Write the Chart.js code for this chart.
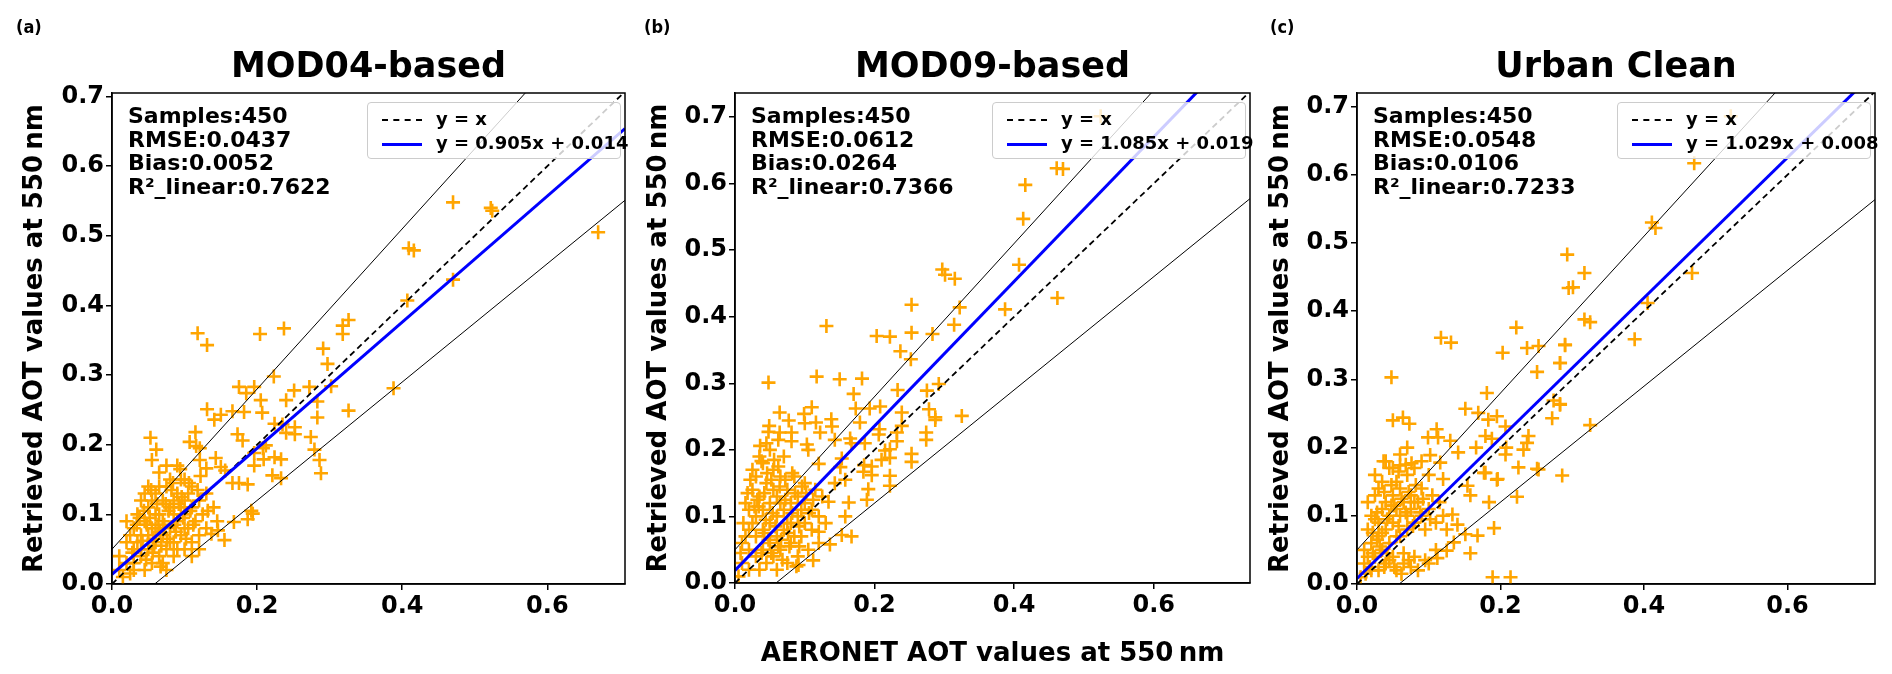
<!DOCTYPE html>
<html>
<head>
<meta charset="utf-8">
<script src="https://cdn.jsdelivr.net/npm/chart.js@4"></script>
<style>
  body { margin: 0; width: 1892px; height: 674px; background: #fff; position: relative; overflow: hidden;
         font-family: "DejaVu Sans", sans-serif; font-weight: bold; color: #000; }
  canvas { position: absolute; top: 0; }
  .ov { position: absolute; white-space: nowrap; z-index: 2; }
  .title { font-size: 35px; text-align: center; }
  .tag { font-size: 18px; font-family: "DejaVu Sans Condensed", "DejaVu Sans", sans-serif; }
  .stats { font-size: 22px; line-height: 23.5px; }
  .legend { font-size: 18px; background: rgba(255,255,255,0.8); border: 1px solid #ccc; border-radius: 4px;
            box-sizing: border-box; height: 57px; padding: 4px 0 0 14px; line-height: 24px; }
  .legend span.s { display: inline-block; width: 40px; margin-right: 14px; vertical-align: middle; }
</style>
</head>
<body>
<canvas id="cA" width="640" height="674" style="left:0px"></canvas>
<canvas id="cB" width="640" height="674" style="left:626px"></canvas>
<canvas id="cC" width="640" height="674" style="left:1252px"></canvas>
<div id="over"></div>
<script>
const titles = ['MOD04-based', 'MOD09-based', 'Urban Clean'];
const tags = ['(a)', '(b)', '(c)'];
const statLines = [
  ['Samples:450', 'RMSE:0.0437', 'Bias:0.0052', 'R\u00b2_linear:0.7622'],
  ['Samples:450', 'RMSE:0.0612', 'Bias:0.0264', 'R\u00b2_linear:0.7366'],
  ['Samples:450', 'RMSE:0.0548', 'Bias:0.0106', 'R\u00b2_linear:0.7233']
];
const fitSlope = [0.905, 1.085, 1.029];
const fitIntercept = [0.014, 0.019, 0.008];
const axisMax = [0.707, 0.738, 0.722];
const yAxisMax = [0.705, 0.736, 0.72];
const xTicks = [0, 0.2, 0.4, 0.6];
const yTicks = [0, 0.1, 0.2, 0.3, 0.4, 0.5, 0.6, 0.7];

const pointsA = [
  [0.470,0.548],[0.522,0.540],[0.524,0.536],[0.409,0.482],[0.416,0.479],[0.470,0.437],[0.407,0.407],[0.388,0.281],
  [0.670,0.505],[0.326,0.379],[0.318,0.371],[0.318,0.359],[0.291,0.338],[0.297,0.316],[0.302,0.284],[0.272,0.283],
  [0.283,0.262],[0.326,0.249],[0.283,0.239],[0.237,0.367],[0.204,0.359],[0.118,0.360],[0.131,0.343],[0.131,0.251],
  [0.223,0.298],[0.175,0.283],[0.196,0.283],[0.185,0.274],[0.205,0.264],[0.207,0.246],[0.166,0.248],[0.182,0.247],
  [0.150,0.243],[0.141,0.236],[0.251,0.278],[0.240,0.264],[0.224,0.230],[0.235,0.229],[0.240,0.217],[0.252,0.225],
  [0.252,0.215],[0.173,0.215],[0.180,0.206],[0.115,0.218],[0.107,0.204],[0.053,0.210],[0.061,0.193],[0.196,0.188],
  [0.212,0.199],[0.208,0.195],[0.224,0.182],[0.233,0.179],[0.274,0.211],[0.286,0.178],[0.121,0.195],[0.143,0.181],
  [0.150,0.168],[0.055,0.178],[0.288,0.159],[0.279,0.193],[0.233,0.152],[0.221,0.156],[0.209,0.179],[0.196,0.170],
  [0.166,0.145],[0.175,0.145],[0.187,0.143],[0.156,0.163],[0.116,0.198],[0.130,0.166],[0.121,0.178],[0.192,0.105],
  [0.155,0.063],[0.187,0.093],[0.194,0.101],[0.168,0.089],[0.146,0.077],[0.137,0.072],
  [0.01,0.02],[0.01,0.04],[0.015,0.01],[0.02,0.03],[0.02,0.06],[0.025,0.015],[0.03,0.05],[0.03,0.08],[0.03,0.02],
  [0.035,0.10],[0.04,0.04],[0.04,0.07],[0.04,0.12],[0.045,0.02],[0.045,0.09],[0.05,0.05],[0.05,0.11],[0.05,0.14],
  [0.055,0.03],[0.055,0.08],[0.06,0.06],[0.06,0.10],[0.06,0.13],[0.065,0.04],[0.065,0.16],[0.07,0.07],[0.07,0.09],
  [0.07,0.12],[0.075,0.02],[0.075,0.05],[0.075,0.14],[0.08,0.08],[0.08,0.11],[0.08,0.15],[0.085,0.04],[0.085,0.06],
  [0.09,0.09],[0.09,0.13],[0.09,0.17],[0.095,0.07],[0.1,0.05],[0.1,0.10],[0.1,0.12],[0.1,0.15],[0.105,0.08],
  [0.11,0.06],[0.11,0.11],[0.11,0.14],[0.115,0.09],[0.12,0.07],[0.12,0.12],[0.125,0.10],[0.13,0.08],[0.13,0.13],
  [0.14,0.11],[0.145,0.09],[0.02,0.09],[0.025,0.07],[0.035,0.06],[0.045,0.13],[0.055,0.12],[0.065,0.10],[0.07,0.03],
  [0.085,0.10],[0.095,0.11],[0.105,0.13],[0.06,0.08],[0.05,0.07],[0.04,0.05],[0.03,0.03],[0.08,0.06],[0.09,0.05],
  [0.1,0.08],[0.11,0.04],[0.12,0.05],[0.065,0.14],[0.075,0.17],[0.085,0.12],[0.095,0.15],[0.058,0.055],[0.072,0.085],
  [0.088,0.075],[0.048,0.085],[0.038,0.095],[0.028,0.045],
  [0.042,0.062],[0.052,0.095],[0.062,0.115],[0.068,0.055],[0.078,0.105],[0.082,0.135],[0.092,0.115],[0.098,0.095],
  [0.108,0.105],[0.118,0.135],[0.056,0.045],[0.066,0.075],[0.076,0.065],[0.086,0.085],[0.096,0.125],[0.106,0.145],
  [0.034,0.085],[0.044,0.105],[0.054,0.135],[0.064,0.085],[0.074,0.115],[0.084,0.145],[0.094,0.165],[0.102,0.065],
  [0.112,0.085],[0.122,0.155],[0.132,0.105],[0.047,0.035],[0.057,0.065],[0.067,0.025]
];
const pointsB = [
  [0.416,0.598],[0.461,0.623],[0.413,0.547],[0.407,0.478],[0.297,0.471],[0.301,0.463],[0.315,0.457],[0.253,0.418],
  [0.322,0.414],[0.387,0.411],[0.314,0.388],[0.462,0.428],[0.470,0.622],[0.524,0.701],[0.131,0.386],[0.203,0.371],
  [0.222,0.370],[0.253,0.376],[0.283,0.374],[0.237,0.348],[0.252,0.336],[0.048,0.301],[0.117,0.310],[0.150,0.306],
  [0.182,0.307],[0.170,0.284],[0.233,0.290],[0.292,0.299],[0.275,0.289],[0.325,0.251],[0.278,0.261],[0.287,0.249],
  [0.193,0.262],[0.208,0.265],[0.173,0.262],[0.239,0.256],[0.274,0.226],[0.253,0.194],[0.215,0.199],[0.222,0.201],
  [0.185,0.177],[0.196,0.175],[0.207,0.231],[0.232,0.226],[0.239,0.236],[0.179,0.241],[0.138,0.246],[0.110,0.264],
  [0.099,0.254],[0.077,0.244],[0.064,0.256],[0.049,0.236],[0.064,0.226],[0.081,0.226],[0.116,0.241],[0.122,0.226],
  [0.036,0.206],[0.103,0.208],[0.165,0.217],[0.153,0.187],[0.151,0.174],[0.120,0.179],[0.222,0.161],
  [0.287,0.245],[0.274,0.215],[0.253,0.182],[0.222,0.146],[0.191,0.141],[0.189,0.125],[0.163,0.121],[0.158,0.100],
  [0.167,0.070],[0.153,0.072],[0.136,0.058],[0.112,0.034],[0.091,0.027],[0.120,0.077],[0.134,0.122],[0.143,0.150],
  [0.158,0.155],[0.184,0.167],[0.196,0.162],[0.210,0.185],[0.222,0.188],[0.232,0.213],[0.206,0.223],[0.186,0.210],
  [0.167,0.210],[0.143,0.215],[0.048,0.227],[0.062,0.215],[0.081,0.213],[0.038,0.183],[0.105,0.200],[0.100,0.240],
  [0.139,0.235],
  [0.005,0.01],[0.01,0.03],[0.01,0.06],[0.012,0.09],[0.015,0.12],[0.02,0.02],[0.02,0.05],[0.02,0.08],[0.02,0.11],
  [0.025,0.14],[0.03,0.04],[0.03,0.07],[0.03,0.10],[0.03,0.16],[0.035,0.02],[0.035,0.13],[0.04,0.05],[0.04,0.08],
  [0.04,0.11],[0.04,0.18],[0.045,0.03],[0.045,0.15],[0.05,0.06],[0.05,0.09],[0.05,0.12],[0.05,0.20],[0.055,0.04],
  [0.055,0.14],[0.055,0.17],[0.06,0.07],[0.06,0.10],[0.06,0.13],[0.06,0.02],[0.065,0.05],[0.065,0.16],[0.07,0.08],
  [0.07,0.11],[0.07,0.19],[0.075,0.03],[0.075,0.14],[0.08,0.06],[0.08,0.09],[0.08,0.12],[0.085,0.16],[0.09,0.04],
  [0.09,0.10],[0.09,0.13],[0.095,0.07],[0.1,0.09],[0.1,0.12],[0.1,0.15],[0.105,0.05],[0.11,0.08],[0.11,0.11],
  [0.115,0.14],[0.12,0.06],[0.12,0.10],[0.125,0.13],[0.13,0.09],[0.025,0.17],[0.035,0.19],[0.045,0.21],[0.015,0.07],
  [0.025,0.09],[0.065,0.12],[0.075,0.09],[0.085,0.07],[0.095,0.11],[0.058,0.085],[0.048,0.065],[0.038,0.045],
  [0.068,0.035],[0.078,0.055],[0.088,0.025],[0.028,0.115],[0.018,0.135],[0.008,0.045],[0.052,0.155],[0.062,0.175],
  [0.042,0.135],
  [0.044,0.095],[0.054,0.105],[0.064,0.145],[0.072,0.125],[0.082,0.105],[0.092,0.085],[0.102,0.135],[0.112,0.125],
  [0.034,0.115],[0.046,0.165],[0.056,0.185],[0.066,0.065],[0.076,0.075],[0.086,0.135],[0.096,0.145],[0.106,0.105],
  [0.022,0.155],[0.032,0.125],[0.042,0.075],[0.052,0.045],[0.062,0.055],[0.072,0.155],[0.082,0.165],[0.092,0.055]
];
const pointsC = [
  [0.293,0.483],[0.295,0.434],[0.222,0.376],[0.117,0.361],[0.131,0.354],[0.203,0.339],[0.237,0.346],[0.253,0.349],
  [0.290,0.350],[0.283,0.324],[0.251,0.311],[0.048,0.303],[0.181,0.280],[0.151,0.257],[0.169,0.251],[0.183,0.241],
  [0.195,0.246],[0.207,0.231],[0.274,0.269],[0.283,0.264],[0.272,0.243],[0.050,0.240],[0.064,0.244],[0.073,0.235],
  [0.111,0.227],[0.099,0.215],[0.113,0.215],[0.130,0.210],[0.141,0.193],[0.166,0.200],[0.188,0.213],[0.208,0.200],
  [0.207,0.190],[0.232,0.197],[0.239,0.217],[0.237,0.207],[0.037,0.180],[0.060,0.174],[0.076,0.177],[0.102,0.189],
  [0.116,0.178],[0.120,0.154],[0.179,0.163],[0.195,0.153],[0.225,0.171],[0.253,0.168],[0.286,0.159],
  [0.189,0.010],[0.214,0.010],[0.251,0.169],[0.223,0.128],[0.196,0.154],[0.191,0.082],[0.184,0.120],[0.158,0.045],
  [0.168,0.071],[0.151,0.073],[0.135,0.061],[0.112,0.038],[0.125,0.049],[0.140,0.087],[0.133,0.102],[0.158,0.130],
  [0.154,0.144],[0.177,0.163],[0.179,0.217],
  [0.470,0.617],[0.521,0.686],[0.411,0.530],[0.416,0.522],[0.317,0.456],[0.301,0.435],[0.467,0.456],[0.405,0.412],
  [0.317,0.388],[0.325,0.384],[0.290,0.351],[0.387,0.359],[0.283,0.324],[0.283,0.263],[0.325,0.233],
  [0.005,0.01],[0.01,0.03],[0.01,0.05],[0.015,0.08],[0.02,0.02],[0.02,0.06],[0.02,0.10],[0.025,0.04],[0.025,0.13],
  [0.03,0.07],[0.03,0.09],[0.03,0.02],[0.035,0.05],[0.035,0.11],[0.035,0.15],[0.04,0.03],[0.04,0.08],[0.04,0.12],
  [0.045,0.06],[0.045,0.10],[0.045,0.17],[0.05,0.04],[0.05,0.09],[0.05,0.13],[0.055,0.02],[0.055,0.11],[0.055,0.15],
  [0.06,0.07],[0.06,0.10],[0.06,0.14],[0.065,0.03],[0.065,0.12],[0.07,0.08],[0.07,0.16],[0.075,0.11],[0.075,0.13],
  [0.08,0.04],[0.08,0.09],[0.085,0.12],[0.085,0.02],[0.09,0.10],[0.09,0.14],[0.095,0.08],[0.1,0.11],[0.1,0.03],
  [0.105,0.13],[0.11,0.09],[0.11,0.05],[0.115,0.12],[0.12,0.10],[0.125,0.08],[0.015,0.12],[0.025,0.16],[0.03,0.14],
  [0.04,0.18],[0.05,0.17],[0.06,0.19],[0.07,0.20],[0.08,0.17],[0.09,0.18],[0.1,0.16],[0.065,0.045],[0.045,0.035],
  [0.035,0.075],[0.025,0.095],[0.015,0.04],[0.075,0.025],[0.095,0.035],[0.07,0.10],[0.08,0.12],[0.055,0.07],
  [0.048,0.115],[0.038,0.135],[0.028,0.065],[0.018,0.025],
  [0.042,0.045],[0.052,0.025],[0.062,0.015],[0.072,0.035],[0.032,0.055],[0.042,0.095],[0.052,0.115],[0.062,0.125],
  [0.072,0.135],[0.082,0.145],[0.092,0.125],[0.102,0.095],[0.058,0.085],[0.068,0.105],[0.078,0.085],[0.088,0.105],
  [0.022,0.075],[0.028,0.105],[0.038,0.025],[0.048,0.145],[0.058,0.165],[0.068,0.175],[0.012,0.015],[0.022,0.045]
];
const allPoints = [pointsA, pointsB, pointsC];

// layout of each panel: canvas left, plot left/right/top/bottom in page pixels
const panels = [
  { id: 'cA', left: 0,    pl: 112,  pr: 625,  pt: 93, pb: 584, yTitlePad: 20 },
  { id: 'cB', left: 626,  pl: 735,  pr: 1250, pt: 93, pb: 583, yTitlePad: 18 },
  { id: 'cC', left: 1252, pl: 1357, pr: 1875, pt: 93, pb: 584, yTitlePad: 14 }
];

const frame = {
  id: 'frame',
  afterDraw(chart) {
    const a = chart.chartArea, c = chart.ctx;
    c.save();
    c.strokeStyle = '#000';
    c.lineWidth = 1.5;
    c.strokeRect(a.left, a.top, a.right - a.left, a.bottom - a.top);
    c.restore();
  }
};

const over = document.getElementById('over');
function addDiv(cls, html, style) {
  const d = document.createElement('div');
  d.className = 'ov ' + cls;
  d.innerHTML = html;
  Object.assign(d.style, style);
  over.appendChild(d);
  return d;
}

panels.forEach((p, i) => {
  const mx = axisMax[i];
  const line = (s, b) => [{ x: 0, y: b }, { x: mx, y: s * mx + b }];
  const tickFont = { family: 'DejaVu Sans', size: 24, weight: 'bold' };
  new Chart(document.getElementById(p.id), {
    type: 'scatter',
    data: {
      datasets: [
        { data: line(fitSlope[i], fitIntercept[i]), showLine: true, borderColor: '#0000ff', borderWidth: 3, pointRadius: 0 },
        { data: line(1, 0), showLine: true, borderColor: '#000', borderWidth: 1.8, borderDash: [6, 4], pointRadius: 0 },
        { data: line(1.15, 0.05), showLine: true, borderColor: '#000', borderWidth: 1, pointRadius: 0 },
        { data: line(0.85, -0.05), showLine: true, borderColor: '#000', borderWidth: 1, pointRadius: 0 },
        { data: allPoints[i].map(([x, y]) => ({ x, y })), pointStyle: 'cross', pointRadius: 7,
          borderColor: '#ffa500', backgroundColor: '#ffa500', borderWidth: 2.6 }
      ]
    },
    options: {
      responsive: false,
      animation: false,
      layout: { padding: { top: p.pt, right: 640 - (p.pr - p.left), left: 0, bottom: 0 } },
      plugins: { legend: { display: false }, tooltip: { enabled: false } },
      scales: {
        x: {
          type: 'linear', min: 0, max: mx,
          afterFit: s => { s.height = 674 - p.pb; },
          afterBuildTicks: s => { s.ticks = xTicks.map(v => ({ value: v })); },
          ticks: { font: tickFont, color: '#000', padding: 2, callback: v => v.toFixed(1) },
          grid: { drawOnChartArea: false, drawTicks: true, tickLength: 6, color: '#000', lineWidth: 1.5 },
          border: { color: '#000', width: 1.5 },
          title: { display: i === 1, text: 'AERONET AOT values at 550\u2009nm', color: '#000',
                   font: { family: 'DejaVu Sans', size: 26, weight: 'bold' }, padding: { top: 6 } }
        },
        y: {
          type: 'linear', min: 0, max: yAxisMax[i],
          afterFit: s => { s.width = p.pl - p.left; },
          afterBuildTicks: s => { s.ticks = yTicks.map(v => ({ value: v })); },
          ticks: { font: tickFont, color: '#000', padding: 2, callback: v => v.toFixed(1) },
          grid: { drawOnChartArea: false, drawTicks: true, tickLength: 6, color: '#000', lineWidth: 1.5 },
          border: { color: '#000', width: 1.5 },
          title: { display: true, text: 'Retrieved AOT values at 550\u2009nm', color: '#000',
                   font: { family: 'DejaVu Sans', size: 26, weight: 'bold' }, padding: { top: p.yTitlePad, bottom: 0 } }
        }
      }
    },
    plugins: [frame]
  });

  addDiv('title', titles[i], { left: p.pl + 'px', width: (p.pr - p.pl) + 'px', top: '45px' });
  addDiv('tag', tags[i], { left: (i === 0 ? 16 : p.left + 18) + 'px', top: '16px' });
  addDiv('stats', statLines[i].join('<br>'), { left: (p.pl + 16) + 'px', top: '104px' });
  addDiv('legend',
    '<span class="s" style="border-top:2px dashed #000"></span>y = x<br>' +
    '<span class="s" style="border-top:3px solid #0000ff"></span>y = ' + fitSlope[i].toFixed(3) + 'x + ' + fitIntercept[i].toFixed(3),
    { left: (p.pr - 258) + 'px', width: '254px', top: '102px' });
});
</script>
</body>
</html>
